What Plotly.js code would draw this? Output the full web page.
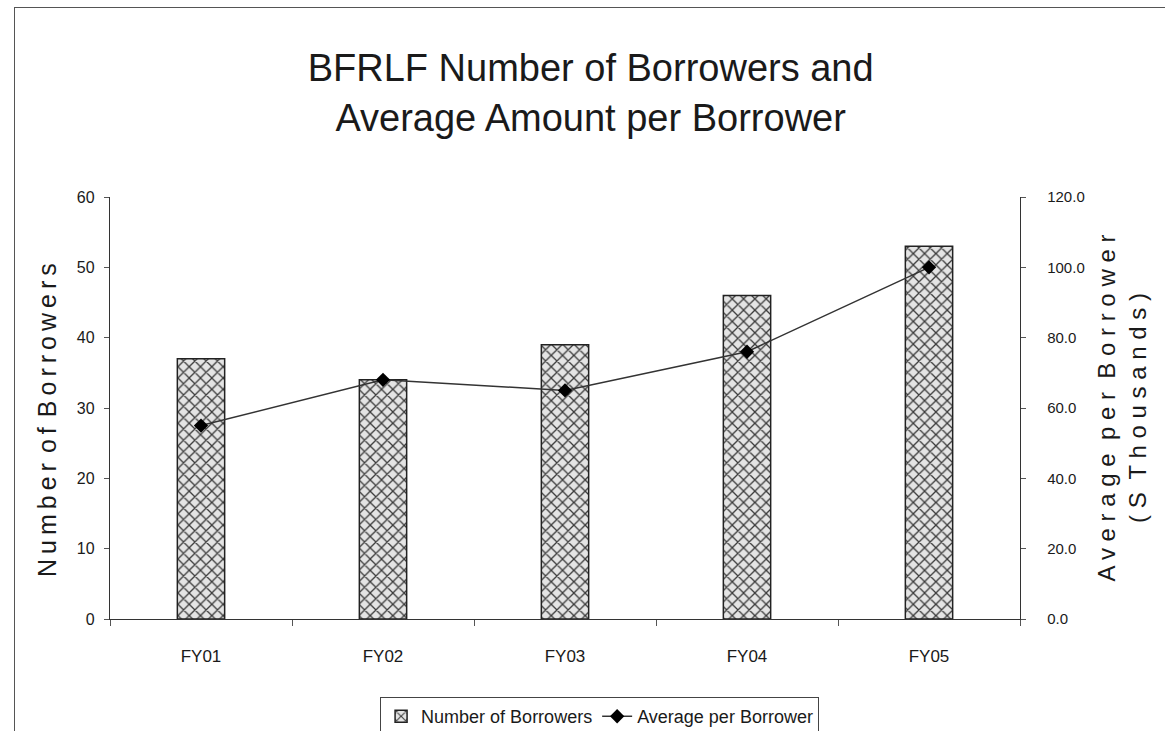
<!DOCTYPE html>
<html>
<head>
<meta charset="utf-8">
<script src="https://cdn.plot.ly/plotly-3.0.1.min.js"></script>
<style>
  html, body { margin: 0; padding: 0; background: #ffffff; overflow: hidden; }
  #frame { position: absolute; left: 14px; top: 7px; width: 1170px; height: 740px;
           border: 1.2px solid #555; box-sizing: border-box; }
  #chart { position: absolute; left: 0; top: 0; width: 1165px; height: 731px; }
</style>
</head>
<body>
<div id="frame"></div>
<div id="chart"></div>
<script>
// Fiscal years and the two series
const years = ['FY01', 'FY02', 'FY03', 'FY04', 'FY05'];
const borrowers = [37, 34, 39, 46, 53];
const avgPerBorrower = [55.0, 68.0, 65.0, 76.0, 100.0];

const sans = 'Liberation Sans, Arial, sans-serif';

// spread the letters of a title apart with the given gap character
function spaced(s, gap) {
  return s.split(' ').map(w => w.split('').join(gap)).join(gap + gap);
}

const barTrace = {
  type: 'bar',
  name: 'Number of Borrowers',
  x: years,
  y: borrowers,
  width: 0.26,
  marker: {
    color: '#eeeeee',
    line: { color: '#222222', width: 1.5 },
    pattern: { shape: 'x', fgcolor: '#3a3a3a', bgcolor: '#e4e4e4', size: 8, solidity: 0.3 }
  },
  hoverinfo: 'x+y'
};

const lineTrace = {
  type: 'scatter',
  mode: 'lines+markers',
  name: 'Average per Borrower',
  x: years,
  y: avgPerBorrower,
  yaxis: 'y2',
  line: { color: '#333333', width: 1.5 },
  marker: { symbol: 'diamond', size: 11, color: '#000000' }
};

const layout = {
  width: 1165,
  height: 731,
  margin: { l: 110, r: 145, t: 197, b: 112, autoexpand: false },
  paper_bgcolor: 'rgba(0,0,0,0)',
  plot_bgcolor: 'rgba(0,0,0,0)',
  showlegend: true,
  title: {
    text: 'BFRLF Number of Borrowers and<br>Average Amount per Borrower',
    font: { family: sans, size: 38, color: '#1a1a1a' },
    x: 0.507, xanchor: 'center',
    y: 0.889, yanchor: 'top'
  },
  xaxis: {
    type: 'category',
    showline: true, linecolor: '#333333', linewidth: 1.2,
    ticks: 'outside', tickson: 'boundaries', ticklen: 6, tickcolor: '#555555',
    ticklabelstandoff: 21,
    showgrid: false, zeroline: false,
    tickfont: { family: sans, size: 17, color: '#1a1a1a' }
  },
  yaxis: {
    range: [0, 60], dtick: 10,
    showline: true, linecolor: '#333333', linewidth: 1.2,
    ticks: 'outside', ticklen: 5, tickcolor: '#555555',
    ticklabelstandoff: 6,
    showgrid: false, zeroline: false,
    tickfont: { family: sans, size: 16, color: '#1a1a1a' }
  },
  yaxis2: {
    overlaying: 'y', side: 'right',
    range: [0, 120], dtick: 20, tickformat: '.1f',
    showline: true, linecolor: '#333333', linewidth: 1.2,
    ticks: 'outside', ticklen: 5, tickcolor: '#555555',
    ticklabelstandoff: 18,
    showgrid: false, zeroline: false,
    tickfont: { family: sans, size: 15, color: '#1a1a1a' },
    title: { text: spaced('Average per Borrower', ' ') + '<br>' + spaced('(S Thousands)', ' '),
             font: { family: sans, size: 24, color: '#1a1a1a' }, standoff: 14 }
  },
  // left axis title, placed as a rotated label beside the axis
  annotations: [{
    text: spaced('Number of Borrowers', '\u2009'),
    xref: 'paper', yref: 'paper',
    x: -0.069, y: 0.472,
    xanchor: 'center', yanchor: 'middle',
    textangle: -90, showarrow: false,
    font: { family: sans, size: 25, color: '#1a1a1a' }
  }],
  legend: {
    orientation: 'h',
    x: 0.538, xanchor: 'center',
    y: -0.185, yanchor: 'top',
    bordercolor: '#444444', borderwidth: 1,
    bgcolor: '#ffffff',
    font: { family: sans, size: 18, color: '#1a1a1a' },
    itemwidth: 30, tracegroupgap: 0
  },
  bargap: 0.74
};

Plotly.newPlot('chart', [barTrace, lineTrace], layout, { displayModeBar: false, staticPlot: true });
</script>
</body>
</html>
